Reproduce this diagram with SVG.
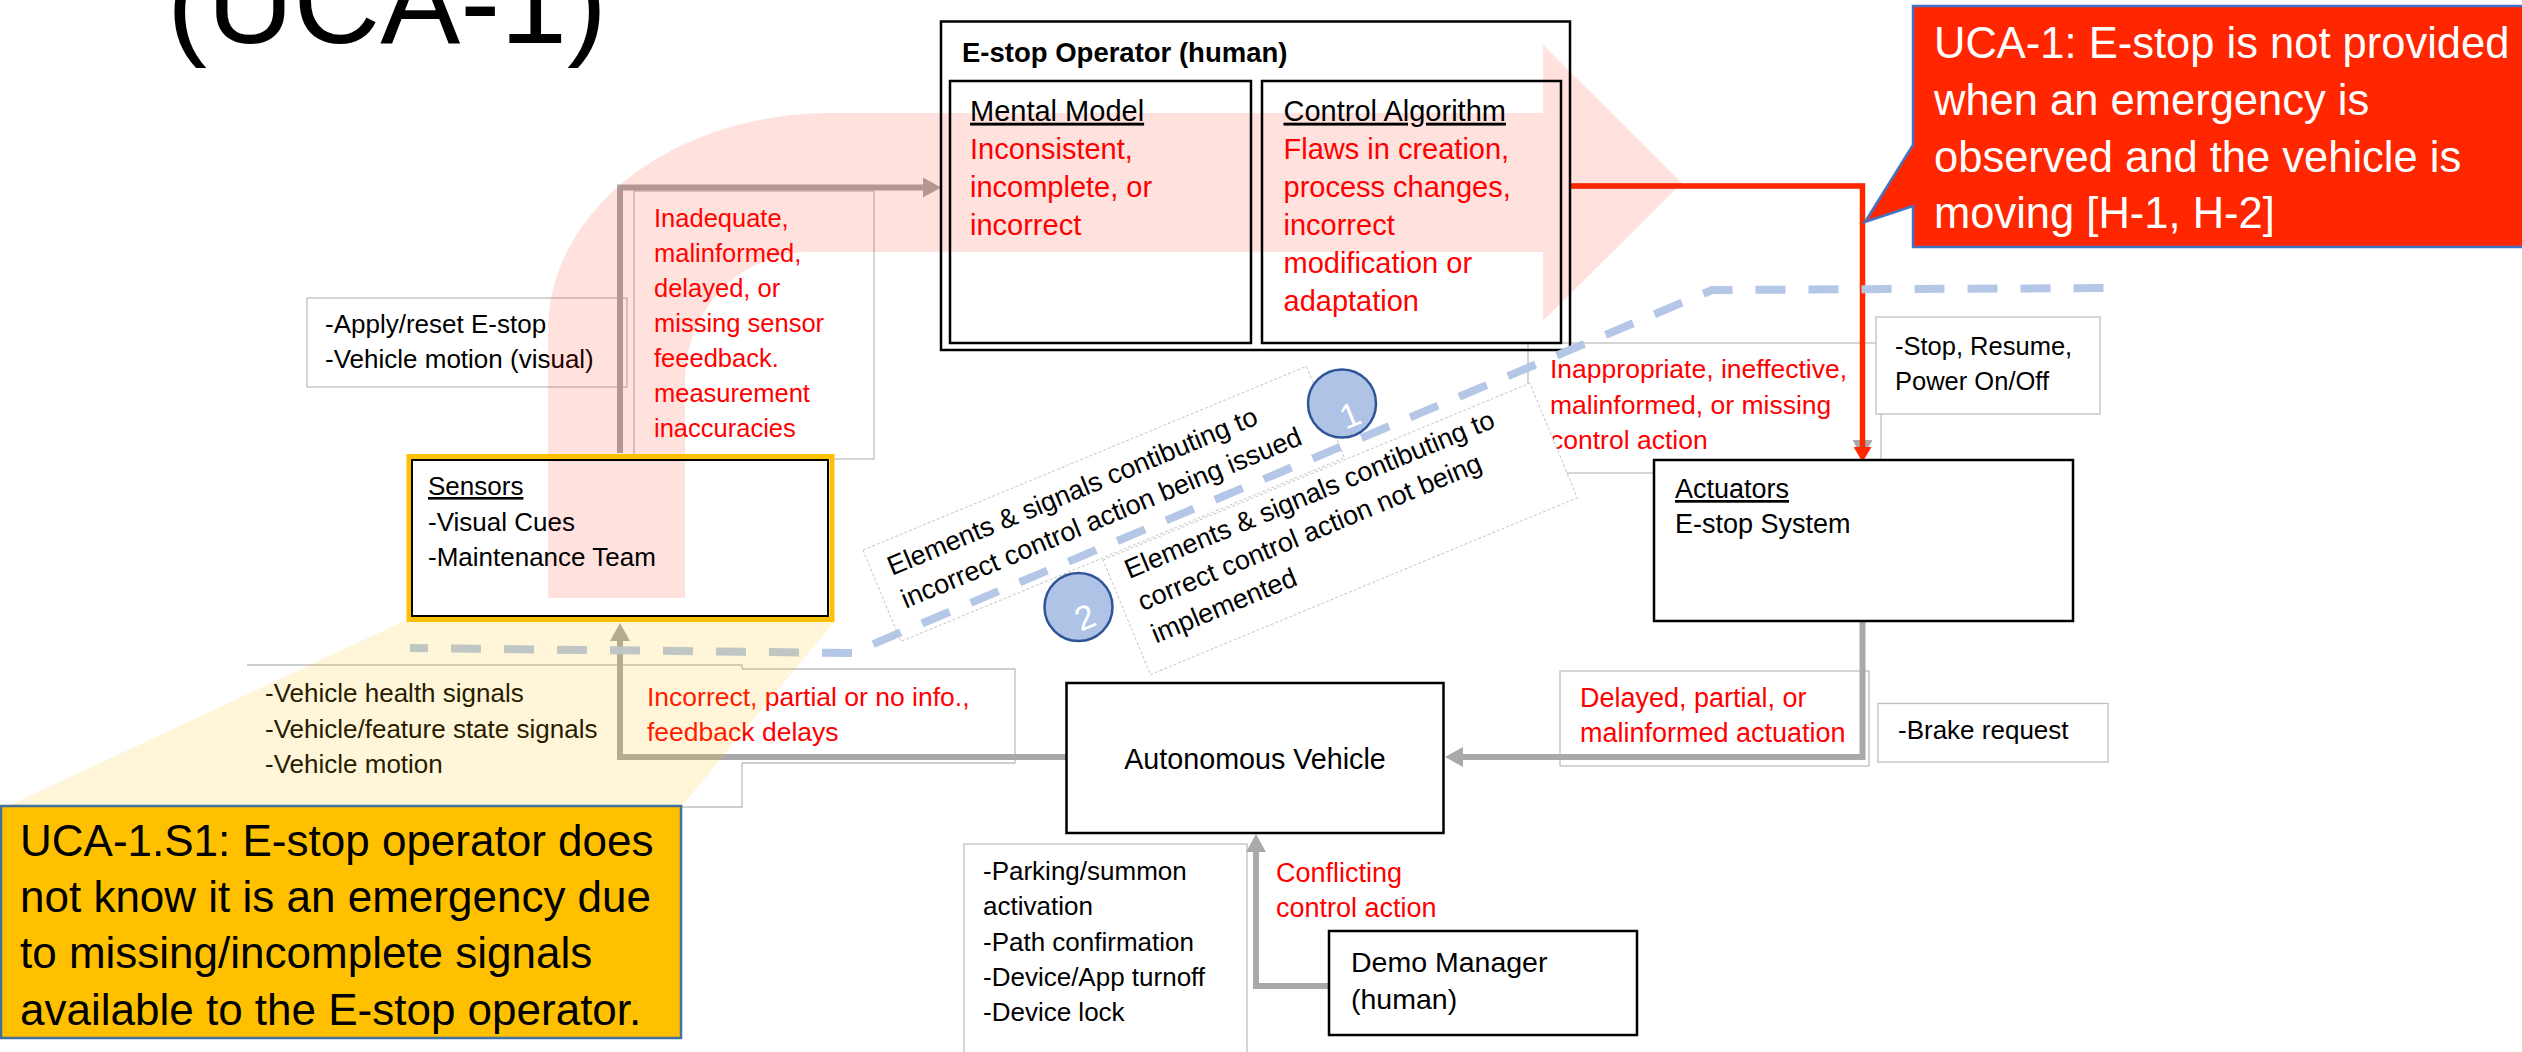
<svg xmlns="http://www.w3.org/2000/svg" width="2522" height="1052" viewBox="0 0 2522 1052">
<defs>
<style>
text{font-family:"Liberation Sans",Arial,Helvetica,sans-serif}
.k{fill:#000}
.r{fill:#FF0000}
.w{fill:#FFFFFF}
.u{text-decoration:underline}
.lb{fill:#FFFFFF;stroke:#BFBFBF;stroke-width:1.3}
.ln{fill:none;stroke:#BFBFBF;stroke-width:1.3}
.nd{fill:#FFFFFF;stroke:#000;stroke-width:2.5}
.ndo{fill:none;stroke:#000;stroke-width:2.5}
.cg{fill:none;stroke:#A9A9A9;stroke-width:6;marker-end:url(#ag)}
.rot{fill:#FFFFFF;stroke:#C8C8C8;stroke-width:1;stroke-dasharray:3 2}
.num{fill:#AFC3E6;stroke:#2F5597;stroke-width:2.5}
</style>
<marker id="ag" viewBox="0 0 18 20" markerWidth="18" markerHeight="20" refX="3" refY="10" orient="auto" markerUnits="userSpaceOnUse"><path d="M0,0 L18,10 L0,20 Z" fill="#A9A9A9"/></marker>
<marker id="ar" viewBox="0 0 15 18" markerWidth="15" markerHeight="18" refX="2" refY="9" orient="auto" markerUnits="userSpaceOnUse"><path d="M0,0 L15,9 L0,18 Z" fill="#FF2600"/></marker>
</defs>
<rect width="2522" height="1052" fill="#FFFFFF"/>

<g id="title">
<text x="167" y="43" font-size="120" class="k">(UCA-1)</text>
</g>

<g id="label-apply">
<rect class="lb" x="307" y="298" width="320" height="89"/>
<text class="k" font-size="26"><tspan x="325" y="333">-Apply/reset E-stop</tspan><tspan x="325" y="368">-Vehicle motion (visual)</tspan></text>
</g>
<g id="label-inadequate">
<rect class="lb" x="634" y="191" width="240" height="268"/>
<text class="r" font-size="25.5"><tspan x="654" y="227">Inadequate,</tspan><tspan x="654" y="262">malinformed,</tspan><tspan x="654" y="297">delayed, or</tspan><tspan x="654" y="332">missing sensor</tspan><tspan x="654" y="367">feeedback.</tspan><tspan x="654" y="402">measurement</tspan><tspan x="654" y="437">inaccuracies</tspan></text>
</g>
<g id="label-vehicle-signals">
<path class="ln" d="M247,665 H742 V669 M742,763 V807 H682"/>
<text class="k" font-size="26"><tspan x="265" y="702">-Vehicle health signals</tspan><tspan x="265" y="737.5">-Vehicle/feature state signals</tspan><tspan x="265" y="773">-Vehicle motion</tspan></text>
</g>
<g id="label-incorrect">
<path class="ln" d="M742,669 H1015 V763 H742"/>
<text class="r" font-size="26.5"><tspan x="647" y="706">Incorrect, partial or no info.,</tspan><tspan x="647" y="740.5">feedback delays</tspan></text>
</g>
<g id="label-inappropriate">
<rect class="lb" x="1528" y="343" width="353" height="130"/>
<text class="r" font-size="26.5"><tspan x="1550" y="378">Inappropriate, ineffective,</tspan><tspan x="1550" y="414">malinformed, or missing</tspan><tspan x="1550" y="449">control action</tspan></text>
</g>
<g id="label-stop">
<rect class="lb" x="1876" y="317" width="224" height="97"/>
<text class="k" font-size="25.5"><tspan x="1895" y="355">-Stop, Resume,</tspan><tspan x="1895" y="390">Power On/Off</tspan></text>
</g>
<g id="label-delayed">
<rect class="lb" x="1560" y="671" width="309" height="95"/>
<text class="r" font-size="27"><tspan x="1580" y="707">Delayed, partial, or</tspan><tspan x="1580" y="741.5">malinformed actuation</tspan></text>
</g>
<g id="label-brake">
<rect class="lb" x="1878" y="703.5" width="230" height="58.5"/>
<text class="k" font-size="26" x="1898" y="739">-Brake request</text>
</g>
<g id="label-parking">
<rect class="lb" x="964" y="844" width="283" height="230"/>
<text class="k" font-size="26"><tspan x="983" y="880">-Parking/summon</tspan><tspan x="983" y="915">activation</tspan><tspan x="983" y="950.5">-Path confirmation</tspan><tspan x="983" y="986">-Device/App turnoff</tspan><tspan x="983" y="1021">-Device lock</tspan></text>
</g>
<g id="label-conflicting">
<text class="r" font-size="27"><tspan x="1276" y="882">Conflicting</tspan><tspan x="1276" y="917">control action</tspan></text>
</g>

<g id="connectors">
<path class="cg" d="M620,453 V187.5 H926"/>
<path class="cg" d="M1066,757 H620 V638"/>
<path class="cg" d="M1862.5,621 V757 H1460"/>
<path class="cg" d="M1329,986 H1256 V849"/>
<path class="cg" style="stroke-width:5" d="M1570,186 H1862.5 V443"/>
<path d="M1570,186 H1862.5 V449" fill="none" stroke="#FF2600" stroke-width="5.5" marker-end="url(#ar)"/>
</g>

<g id="causal-arrow">
<path d="M548,598 L548,330 A282,217 0 0 1 830,113 L1543,113 L1543,45 L1682,183 L1543,321 L1543,252 L810,252 A125,128 0 0 0 685,380 L685,598 Z" fill="#FF1800" fill-opacity="0.13"/>
</g>

<g id="estop-operator">
<rect class="ndo" x="941" y="21.5" width="629" height="328.5" stroke-width="3"/>
<rect class="ndo" x="950" y="81" width="301" height="262"/>
<rect class="ndo" x="1262" y="81" width="299" height="262"/>
<text class="k" x="962" y="62" font-size="27.5" font-weight="bold">E-stop Operator (human)</text>
<text class="k u" x="970" y="120.7" font-size="29">Mental Model</text>
<text class="r" font-size="29"><tspan x="970" y="158.7">Inconsistent,</tspan><tspan x="970" y="196.7">incomplete, or</tspan><tspan x="970" y="234.7">incorrect</tspan></text>
<text class="k u" x="1283.5" y="120.7" font-size="29">Control Algorithm</text>
<text class="r" font-size="29"><tspan x="1283.5" y="158.7">Flaws in creation,</tspan><tspan x="1283.5" y="196.7">process changes,</tspan><tspan x="1283.5" y="234.7">incorrect</tspan><tspan x="1283.5" y="272.7">modification or</tspan><tspan x="1283.5" y="310.7">adaptation</tspan></text>
</g>
<g id="sensors">
<rect x="409" y="456.5" width="423" height="163" fill="none" stroke="#FFC000" stroke-width="5"/>
<rect x="412" y="460" width="416" height="156" fill="none" stroke="#000" stroke-width="2"/>
<text class="k u" x="428" y="495" font-size="26">Sensors</text>
<text class="k" font-size="26"><tspan x="428" y="531">-Visual Cues</tspan><tspan x="428" y="566">-Maintenance Team</tspan></text>
</g>
<g id="actuators">
<rect class="nd" x="1654" y="460" width="419" height="161"/>
<text class="k u" x="1675" y="498" font-size="27">Actuators</text>
<text class="k" x="1675" y="533" font-size="27">E-stop System</text>
</g>
<g id="autonomous-vehicle">
<rect class="nd" x="1066.5" y="683" width="377" height="150"/>
<text class="k" x="1255" y="769" font-size="28.7" text-anchor="middle">Autonomous Vehicle</text>
</g>
<g id="demo-manager">
<rect class="nd" x="1329" y="931" width="308" height="104"/>
<text class="k" font-size="28.5"><tspan x="1351" y="972">Demo Manager</tspan><tspan x="1351" y="1008.6">(human)</tspan></text>
</g>

<g id="annotation-1" transform="translate(863,550) rotate(-22.5)">
<rect class="rot" x="0" y="0" width="480" height="99"/>
<text class="k" font-size="27"><tspan x="17" y="35">Elements &amp; signals contibuting to</tspan><tspan x="17" y="70.5">incorrect control action being issued</tspan></text>
</g>
<g id="annotation-2" transform="translate(1103,560) rotate(-22.5)">
<rect class="rot" x="0" y="0" width="462" height="124"/>
<text class="k" font-size="27"><tspan x="17" y="27.5">Elements &amp; signals contibuting to</tspan><tspan x="17" y="62.5">correct control action not being</tspan><tspan x="17" y="97.5">implemented</tspan></text>
</g>

<g id="boundary">
<path d="M410,648 L852,653 L1712,290 L2112,288" fill="none" stroke="#B4C7E7" stroke-width="8" stroke-dasharray="30 23" stroke-dashoffset="12"/>
</g>

<g id="marker-1">
<circle class="num" cx="1342" cy="403.5" r="34"/>
<text class="w" font-size="34" text-anchor="middle" transform="translate(1350,415) rotate(-22.5)" x="0" y="12">1</text>
</g>
<g id="marker-2">
<circle class="num" cx="1078.5" cy="607" r="34"/>
<text class="w" font-size="34" text-anchor="middle" transform="translate(1085,617) rotate(-22.5)" x="0" y="12">2</text>
</g>

<g id="uca1-s1-callout">
<polygon points="404,621 835,621 682,806 8,806" fill="#FFC000" fill-opacity="0.15"/>
<rect x="1" y="806" width="680" height="232" fill="#FFC000" stroke="#41719C" stroke-width="2.5"/>
<text class="k" font-size="44"><tspan x="20" y="855.5">UCA-1.S1: E-stop operator does</tspan><tspan x="20" y="912">not know it is an emergency due</tspan><tspan x="20" y="968">to missing/incomplete signals</tspan><tspan x="20" y="1024.5">available to the E-stop operator.</tspan></text>
</g>

<g id="uca1-callout">
<path d="M1913,6 H2535 V247 H1913 V206 L1865,222 L1913,145 Z" fill="#FF2600" stroke="#4472C4" stroke-width="2.5" stroke-linejoin="miter"/>
<text class="w" font-size="43.5"><tspan x="1934" y="58">UCA-1: E-stop is not provided</tspan><tspan x="1934" y="115">when an emergency is</tspan><tspan x="1934" y="172">observed and the vehicle is</tspan><tspan x="1934" y="228">moving [H-1, H-2]</tspan></text>
</g>
</svg>
